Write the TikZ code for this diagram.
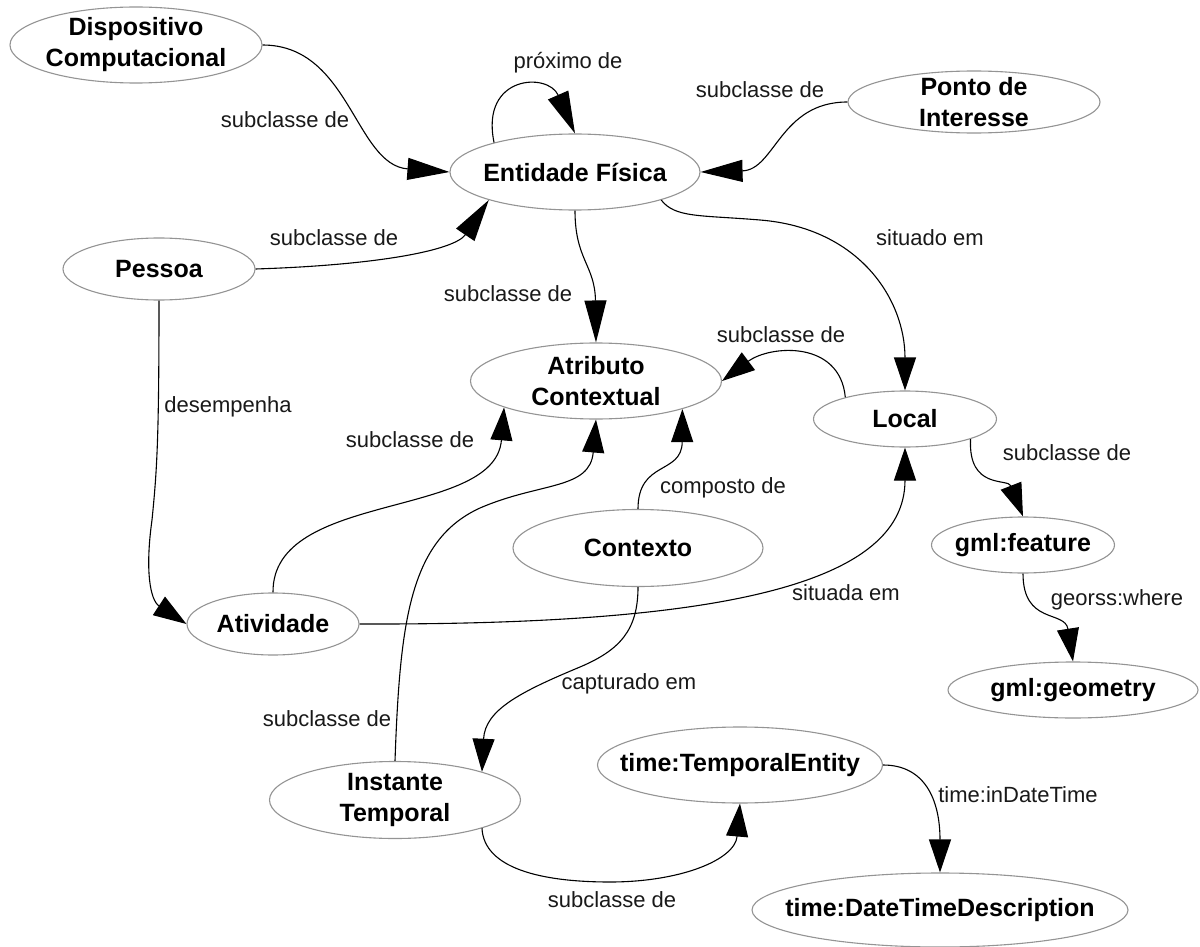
\documentclass[tikz,border=0pt]{standalone}
\usepackage{fontspec}
\setmainfont{Liberation Sans}
\usetikzlibrary{arrows.meta,shapes.geometric}
\begin{document}
\begin{tikzpicture}[x=1pt,y=-1pt,
  concept/.style={ellipse,draw=black!42,line width=1.1pt,inner sep=0pt,fill=white},
  ctext/.style={align=center,inner sep=0pt,font=\bfseries\fontsize{25}{31}\selectfont},
  rel/.style={draw=black,line width=1.1pt,-{Triangle[length=33pt,width=22pt]}},
  relbig/.style={draw=black,line width=1.1pt,-{Triangle[length=42pt,width=22pt]}},
  lbl/.style={inner sep=0pt,text=black!90,font=\fontsize{22}{26}\selectfont}]
\useasboundingbox (0,0) rectangle (1200,947);

% classes
\node[concept,minimum width=252pt,minimum height=76pt,label={[ctext]center:Dispositivo\\Computacional}] (dc) at (136,45) {};
\node[concept,minimum width=250pt,minimum height=76pt,label={[ctext]center:Entidade Física}] (ef) at (575,172) {};
\node[concept,minimum width=252pt,minimum height=62pt,label={[ctext]center:Ponto de\\Interesse}] (pi) at (974,102) {};
\node[concept,minimum width=192pt,minimum height=62pt,label={[ctext]center:Pessoa}] (pe) at (159,269) {};
\node[concept,minimum width=251pt,minimum height=76pt,label={[ctext]center:Atributo\\Contextual}] (ac) at (596,381) {};
\node[concept,minimum width=183pt,minimum height=56pt,label={[ctext]center:Local}] (lo) at (905,419) {};
\node[concept,minimum width=250pt,minimum height=77pt,label={[ctext]center:Contexto}] (cx) at (638,548) {};
\node[concept,minimum width=172pt,minimum height=62pt,label={[ctext]center:Atividade}] (at) at (273,624) {};
\node[concept,minimum width=183pt,minimum height=56pt,label={[ctext]center:gml:feature}] (gf) at (1023,545) {};
\node[concept,minimum width=250pt,minimum height=56pt,label={[ctext]center:gml:geometry}] (gg) at (1073,690) {};
\node[concept,minimum width=251pt,minimum height=77pt,label={[ctext]center:Instante\\Temporal}] (it) at (395,800) {};
\node[concept,minimum width=285pt,minimum height=76pt,label={[ctext]center:time:TemporalEntity}] (tte) at (740,765) {};
\node[concept,minimum width=376pt,minimum height=74pt,label={[ctext]center:time:DateTimeDescription}] (dtd) at (940,910) {};

% relation labels
\node[lbl] (l1) at (285,120) {subclasse de};
\node[lbl] (l2) at (568,63) {próximo de};
\node[lbl] (l3) at (760,90) {subclasse de};
\node[lbl] (l4) at (334,238) {subclasse de};
\node[lbl] (l5) at (930,238) {situado em};
\node[lbl] (l6) at (508,294) {subclasse de};
\node[lbl] (l7) at (781,335) {subclasse de};
\node[lbl] (l8) at (228,407) {desempenha};
\node[lbl] (l9) at (410,440) {subclasse de};
\node[lbl] (l10) at (723,488) {composto de};
\node[lbl] (l11) at (846,593) {situada em};
\node[lbl] (l12) at (1067,453) {subclasse de};
\node[lbl] (l13) at (1117,600) {georss:where};
\node[lbl] (l14) at (629,684) {capturado em};
\node[lbl] (l15) at (327,719) {subclasse de};
\node[lbl] (l16) at (612,900) {subclasse de};
\node[lbl] (l17) at (1018,795) {time:inDateTime};

% relations
\draw[relbig] (dc.east) .. controls (350,45) and (355,165) .. (ef.west);
\draw[relbig] (pi.west) .. controls (780,102) and (775,170) .. (ef.east);
\draw[relbig] (ef.160) .. controls (480,75) and (548,72) .. (ef.north);
\draw[relbig] (pe.east) .. controls (380,265) and (455,250) .. (ef.198);
\draw[relbig] (ef.south) .. controls (575,260) and (595,265) .. (ac.north);
\draw[rel] (ef.342) .. controls (675,218) and (700,215) .. (760,220)
  .. controls (860,228) and (905,300) .. (lo.north);
\draw[rel] (lo.160) .. controls (840,340) and (770,345) .. (ac.east);
\draw[rel] (pe.south) .. controls (159,440) and (157,470) .. (152,520)
  .. controls (145,570) and (150,600) .. (at.west);
\draw[rel] (at.north) .. controls (272,490) and (495,520) .. (ac.196);
\draw[rel] (it.north) .. controls (400,620) and (410,540) .. (480,508)
  .. controls (540,482) and (590,490) .. (ac.south);
\draw[rel] (cx.north) .. controls (638,460) and (682,475) .. (ac.342);
\draw[rel] (at.east) .. controls (700,625) and (905,590) .. (lo.south);
\draw[rel] (cx.south) .. controls (638,630) and (620,650) .. (580,667)
  .. controls (520,692) and (485,710) .. (it.18);
\draw[rel] (lo.343) .. controls (968,490) and (1008,478) .. (gf.north);
\draw[rel] (gf.south) .. controls (1023,625) and (1065,610) .. (gg.north);
\draw[rel] (it.342) .. controls (484,868) and (540,882) .. (610,882)
  .. controls (680,882) and (735,860) .. (tte.south);
\draw[rel] (tte.east) .. controls (925,765) and (940,800) .. (dtd.north);
\end{tikzpicture}
\end{document}
